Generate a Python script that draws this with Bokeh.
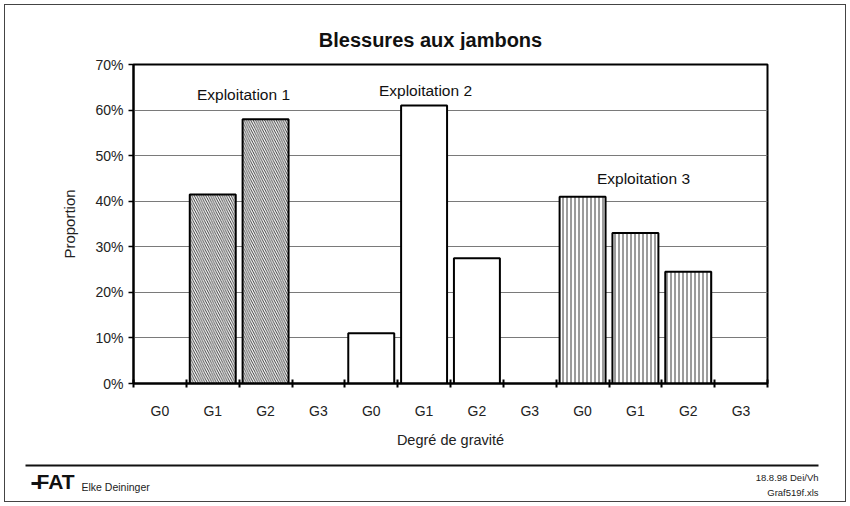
from bokeh.plotting import figure
from bokeh.layouts import column
from bokeh.models import (ColumnDataSource, FixedTicker, NumeralTickFormatter,
                          Label, Range1d)
from bokeh.core.properties import value
from bokeh.embed import file_html
from bokeh.resources import INLINE

# ---- data ----
grades = ["G0", "G1", "G2", "G3"]
farms = ["Exploitation 1", "Exploitation 2", "Exploitation 3"]
exp1 = [0.0, 0.415, 0.58, 0.0]
exp2 = [0.11, 0.61, 0.275, 0.0]
exp3 = [0.41, 0.33, 0.245, 0.0]
y_ticks = [0.0, 0.1, 0.2, 0.3, 0.4, 0.5, 0.6, 0.7]

title_text = "Blessures aux jambons"
x_title = "Degré de gravité"
y_title = "Proportion"
footer_left = "Elke Deininger"
footer_right = ["18.8.98 Dei/Vh", "Graf519f.xls"]

FONT = "Liberation Sans"
W = 850
HEAD_H, MAIN_H, FOOT_H = 50, 405, 51
FL, FR, FT, FB = 133, 767, 64, 383  # frame in page px

def plain(fig):
    fig.grid.visible = False
    fig.outline_line_color = None
    fig.background_fill_color = None
    fig.border_fill_color = None

# ---------- header (title) ----------
head = figure(width=W, height=HEAD_H, output_backend="svg", toolbar_location=None,
              x_range=Range1d(0, W), y_range=Range1d(HEAD_H, 0),
              x_axis_location=None, y_axis_location=None, min_border=0,
              frame_align=False)
plain(head)
head.text(x=[430], y=[39], text=[title_text], text_font=value(FONT),
          text_font_size="20px", text_font_style="bold", text_align="center",
          text_baseline="middle", text_color="#111")

# ---------- main chart ----------
n = len(grades) * len(farms)
p = figure(width=W, height=MAIN_H, output_backend="svg", toolbar_location=None,
           x_range=Range1d(0, n), y_range=Range1d(0, 0.7),
           min_border_left=FL, min_border_right=W - FR,
           min_border_top=FT - HEAD_H, min_border_bottom=HEAD_H + MAIN_H - FB,
           frame_align=False)
p.background_fill_color = None
p.border_fill_color = None

def px(xp, yp):
    """page pixel -> data coords of main chart"""
    return ((xp - FL) / (FR - FL) * n, (FB - yp) / (FB - FT) * 0.7)

series = [exp1, exp2, exp3]
hatches = ["\\", " ", "|"]
scales = [4.6, 4, 4]
for k, vals in enumerate(series):
    xs, tops = [], []
    for j, v in enumerate(vals):
        if v > 0:
            xs.append(k * len(grades) + j + 0.5)
            tops.append(v)
    src = ColumnDataSource(dict(x=xs, top=tops))
    p.vbar(x="x", top="top", width=0.87, source=src, fill_color="white",
           line_color="black", line_width=2,
           hatch_pattern=hatches[k], hatch_color="#222",
           hatch_scale=scales[k], hatch_weight=0.9)

p.outline_line_color = "black"
p.outline_line_width = 2
p.xgrid.visible = False
p.ygrid.grid_line_color = "#7a7a7a"
p.ygrid.grid_line_width = 1
p.ygrid.ticker = FixedTicker(ticks=y_ticks)

xa = p.xaxis[0]
xa.ticker = FixedTicker(ticks=[i + 0.5 for i in range(n)],
                        minor_ticks=list(range(n + 1)))
xa.major_label_overrides = {i + 0.5: grades[i % len(grades)] for i in range(n)}
xa.major_tick_in = 0
xa.major_tick_out = 0
xa.minor_tick_in = 4
xa.minor_tick_out = 4
xa.minor_tick_line_width = 2
xa.minor_tick_line_color = "black"
xa.axis_line_width = 2
xa.axis_line_color = "black"
xa.major_label_standoff = 15
xa.major_label_text_font = FONT
xa.major_label_text_font_size = "14px"
xa.major_label_text_color = "#222"
xa.axis_label = x_title
xa.axis_label_text_font = FONT
xa.axis_label_text_font_style = "normal"
xa.axis_label_text_font_size = "14.5px"
xa.axis_label_text_color = "#222"
xa.axis_label_standoff = 10

ya = p.yaxis[0]
ya.ticker = FixedTicker(ticks=y_ticks)
ya.formatter = NumeralTickFormatter(format="0%")
ya.major_tick_in = 0
ya.major_tick_out = 5
ya.major_tick_line_width = 1.5
ya.minor_tick_line_color = None
ya.axis_line_width = 2
ya.axis_line_color = "black"
ya.major_label_standoff = 5
ya.major_label_text_font = FONT
ya.major_label_text_font_size = "14px"
ya.major_label_text_color = "#222"
ya.axis_label = y_title
ya.axis_label_text_font = FONT
ya.axis_label_text_font_style = "normal"
ya.axis_label_text_font_size = "15px"
ya.axis_label_text_color = "#222"
ya.axis_label_standoff = 14

for (xp, yp), name in zip([(243, 94), (425, 90), (643, 178)], farms):
    x, y = px(xp, yp)
    p.add_layout(Label(x=x, y=y, text=name, text_font=FONT,
                       text_font_size="15.5px", text_align="center",
                       text_baseline="middle", text_color="#111"))

# ---------- footer ----------
foot = figure(width=W, height=FOOT_H, output_backend="svg", toolbar_location=None,
              x_range=Range1d(0, W), y_range=Range1d(FOOT_H, 0),
              x_axis_location=None, y_axis_location=None, min_border=0,
              frame_align=False)
plain(foot)
foot.segment(x0=[25], y0=[10], x1=[818], y1=[10], line_color="#111", line_width=2)
foot.segment(x0=[31], y0=[28], x1=[39], y1=[28], line_color="#111", line_width=3)
foot.text(x=[36], y=[26], text=["FAT"], text_font=value(FONT),
          text_font_size="21px", text_font_style="bold", text_align="left",
          text_baseline="middle", text_color="#111")
foot.text(x=[81], y=[31], text=[footer_left], text_font=value(FONT),
          text_font_size="10.5px", text_align="left", text_baseline="middle",
          text_color="#222")
foot.text(x=[818, 818], y=[22, 37], text=footer_right, text_font=value(FONT),
          text_font_size="9.5px", text_align="right", text_baseline="middle",
          text_color="#222")

layout = column(head, p, foot, spacing=0,
                styles={"outline": "1.5px solid #444", "outline-offset": "-5px"})

open("out.html", "w").write(file_html(layout, INLINE))
